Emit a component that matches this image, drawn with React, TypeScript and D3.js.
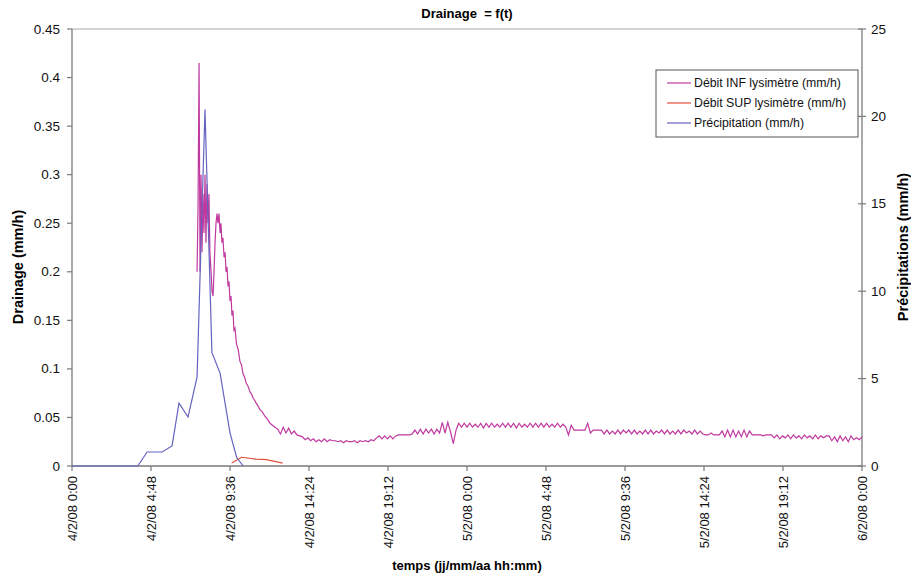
import React from "react";
import * as d3 from "d3";

// ---- Data ----
const xTickLabels = [
  "4/2/08 0:00", "4/2/08 4:48", "4/2/08 9:36", "4/2/08 14:24", "4/2/08 19:12",
  "5/2/08 0:00", "5/2/08 4:48", "5/2/08 9:36", "5/2/08 14:24", "5/2/08 19:12", "6/2/08 0:00",
];
const leftTicks = [0, 0.05, 0.1, 0.15, 0.2, 0.25, 0.3, 0.35, 0.4, 0.45];
const rightTicks = [0, 5, 10, 15, 20, 25];

// Precipitation (mm/h), time in hours from 4/2/08 0:00
const precipT = [0, 4.0, 4.56, 5.47, 6.08, 6.5, 7.05, 7.6, 8.08, 8.5, 9.0, 9.6, 10.0, 10.4];
const precipV = [0, 0, 0.8, 0.8, 1.15, 3.6, 2.8, 5.1, 20.4, 6.5, 5.3, 1.9, 0.5, 0];

// Débit SUP
const supT = [9.7, 10.3, 11.2, 11.8, 12.8];
const supV = [0.003, 0.009, 0.007, 0.0065, 0.003];

// Débit INF – peak part (irregular times)
const infPeakT = [
  7.6, 7.66, 7.72, 7.78, 7.84, 7.9, 7.96, 8.02,
  8.08, 8.14, 8.2, 8.26, 8.32, 8.38, 8.45, 8.51, 8.57, 8.63,
  8.69, 8.75, 8.81, 8.87, 8.93, 9.0, 9.05, 9.11, 9.17, 9.24,
  9.3, 9.36, 9.42, 9.48, 9.54, 9.6, 9.66, 9.72, 9.78, 9.84,
  9.9, 10.0, 10.1, 10.2, 10.3, 10.39, 10.48, 10.57, 10.7, 10.82,
  10.91, 11.0, 11.09, 11.18, 11.3, 11.42, 11.55, 11.73, 11.88, 12.03,
  12.18, 12.33,
];
const infPeakV = [
  0.2, 0.27, 0.415, 0.2, 0.3, 0.22, 0.28, 0.24,
  0.3, 0.23, 0.29, 0.25, 0.28, 0.22, 0.2, 0.18, 0.175, 0.2,
  0.23, 0.25, 0.26, 0.25, 0.26, 0.24, 0.25, 0.23, 0.235, 0.215,
  0.22, 0.2, 0.205, 0.185, 0.19, 0.17, 0.175, 0.155, 0.16, 0.14,
  0.142, 0.125, 0.12, 0.108, 0.104, 0.095, 0.092, 0.086, 0.082, 0.076,
  0.074, 0.07, 0.068, 0.065, 0.062, 0.058, 0.056, 0.051, 0.048, 0.044,
  0.042, 0.04,
];

// Débit INF – tail, one value every 10 minutes from 12.5 h to 48 h
const infTailStart = 12.5;
const infTailStepH = 1 / 6;
const infTailV = [
  0.038, 0.033, 0.040, 0.034, 0.039, 0.033,
  0.036, 0.032, 0.031,
  0.030, 0.027, 0.029, 0.026, 0.028, 0.025, 0.027, 0.025, 0.028, 0.025, 0.027, 0.026,
  0.026, 0.025, 0.026, 0.024, 0.026, 0.025, 0.025, 0.026, 0.024, 0.026, 0.025, 0.026, 0.025, 0.027, 0.026,
  0.029, 0.031, 0.028, 0.031, 0.028, 0.031, 0.028, 0.031,
  0.032, 0.032, 0.032, 0.032, 0.032, 0.033,
  0.037, 0.033, 0.038, 0.033, 0.038, 0.034, 0.038, 0.033, 0.038, 0.034,
  0.045, 0.034, 0.045, 0.035, 0.023, 0.037,
  0.044, 0.040, 0.044, 0.040, 0.044, 0.040, 0.043, 0.040, 0.044, 0.039,
  0.044, 0.040, 0.044, 0.040, 0.043, 0.040, 0.044, 0.040, 0.044, 0.040,
  0.044, 0.039, 0.044, 0.040, 0.043, 0.040, 0.044, 0.040, 0.044, 0.040,
  0.044, 0.040, 0.044, 0.040,
  0.043, 0.040, 0.044, 0.040, 0.043, 0.040, 0.032, 0.042,
  0.037, 0.037, 0.037, 0.037, 0.037, 0.044,
  0.034, 0.037, 0.037, 0.037,
  0.037, 0.033, 0.037, 0.033, 0.036, 0.033, 0.037, 0.033, 0.037, 0.034,
  0.037, 0.033, 0.037, 0.033, 0.036, 0.033, 0.037, 0.033, 0.037, 0.033,
  0.036, 0.034, 0.037, 0.033, 0.037, 0.033, 0.036, 0.033, 0.037, 0.033,
  0.037, 0.034, 0.036, 0.033, 0.037, 0.033, 0.036, 0.033,
  0.032, 0.032, 0.034, 0.032, 0.032, 0.032,
  0.036, 0.030, 0.037, 0.030, 0.037, 0.030, 0.036, 0.030, 0.037, 0.030, 0.036, 0.032,
  0.032, 0.032, 0.032, 0.031, 0.032, 0.032,
  0.032, 0.029, 0.032, 0.028, 0.031, 0.029, 0.032, 0.028, 0.032, 0.029,
  0.031, 0.028, 0.032, 0.029, 0.031, 0.028, 0.032, 0.028, 0.031, 0.029, 0.031,
  0.031, 0.026, 0.030, 0.025, 0.031, 0.026, 0.030, 0.025, 0.031, 0.027, 0.029, 0.027, 0.030,
];

const legendItems = [
  { label: "Débit INF lysimètre (mm/h)", color: "#c0399f" },
  { label: "Débit SUP lysimètre (mm/h)", color: "#e2503c" },
  { label: "Précipitation (mm/h)", color: "#6464c0" },
];

const W = 911;
const H = 575;
const FONT = "Arial, 'Liberation Sans', sans-serif";

export default function App() {
  const x = d3.scaleLinear().domain([0, 48]).range([72, 862]);
  const yL = d3.scaleLinear().domain([0, 0.45]).range([466, 29]);
  const yR = d3.scaleLinear().domain([0, 25]).range([466, 29]);

  const infPts: [number, number][] = [];
  infPeakT.forEach((t, i) => infPts.push([t, infPeakV[i]]));
  infTailV.forEach((v, i) => infPts.push([infTailStart + i * infTailStepH, v]));
  const supPts: [number, number][] = supT.map((t, i) => [t, supV[i]]);
  const prPts: [number, number][] = precipT.map((t, i) => [t, precipV[i]]);

  const lineL = d3.line<[number, number]>().x((d) => x(d[0])).y((d) => yL(d[1]));
  const lineR = d3.line<[number, number]>().x((d) => x(d[0])).y((d) => yR(d[1]));

  const xTicks = xTickLabels.map((_, i) => i * 4.8);
  const axisColor = "#7a7a7a";

  return (
    <svg
      width={W}
      height={H}
      style={{ position: "absolute", left: 0, top: 0, background: "#fff" }}
      fontFamily={FONT}
    >
      <rect x={0} y={0} width={W} height={H} fill="#fff" />
      {/* Title */}
      <text x={467} y={18} textAnchor="middle" fontSize={13} fontWeight="bold" fill="#000">
        {"Drainage\u00a0 = f(t)"}
      </text>

      {/* plot top border */}
      <line x1={72} x2={862} y1={29} y2={29} stroke="#a8a8a8" strokeWidth={1} />

      {/* Left axis */}
      <line x1={72} x2={72} y1={29} y2={466} stroke={axisColor} strokeWidth={1.3} />
      {leftTicks.map((t) => (
        <g key={"l" + t}>
          <line x1={67} x2={72} y1={yL(t)} y2={yL(t)} stroke={axisColor} strokeWidth={1.2} />
          <text x={60} y={yL(t) + 4.5} textAnchor="end" fontSize={13.5} fill="#111">
            {String(t)}
          </text>
        </g>
      ))}

      {/* Right axis */}
      <line x1={862} x2={862} y1={29} y2={466} stroke={axisColor} strokeWidth={1.3} />
      {rightTicks.map((t) => (
        <g key={"r" + t}>
          <line x1={858} x2={866} y1={yR(t)} y2={yR(t)} stroke={axisColor} strokeWidth={1.2} />
          <text x={871} y={yR(t) + 4.5} textAnchor="start" fontSize={13.5} fill="#111">
            {String(t)}
          </text>
        </g>
      ))}

      {/* Bottom axis */}
      <line x1={72} x2={862} y1={466} y2={466} stroke={axisColor} strokeWidth={1.3} />
      {xTicks.map((t, i) => (
        <g key={"x" + i}>
          <line x1={x(t)} x2={x(t)} y1={466} y2={471} stroke={axisColor} strokeWidth={1.2} />
          <text
            transform={`translate(${x(t) + 4.5},${476}) rotate(-90)`}
            textAnchor="end"
            fontSize={13}
            fill="#111"
          >
            {xTickLabels[i]}
          </text>
        </g>
      ))}

      {/* Axis titles */}
      <text
        transform="translate(23,267) rotate(-90)"
        textAnchor="middle"
        fontSize={14.5}
        fontWeight="bold"
        fill="#000"
      >
        Drainage (mm/h)
      </text>
      <text
        transform="translate(908,247) rotate(-90)"
        textAnchor="middle"
        fontSize={14.5}
        fontWeight="bold"
        fill="#000"
      >
        Précipitations (mm/h)
      </text>
      <text x={467} y={570} textAnchor="middle" fontSize={13} fontWeight="bold" fill="#000">
        temps (jj/mm/aa hh:mm)
      </text>

      {/* Series */}
      <path d={lineL(infPts) || ""} fill="none" stroke={legendItems[0].color} strokeWidth={1.2} />
      <path d={lineL(supPts) || ""} fill="none" stroke={legendItems[1].color} strokeWidth={1.2} />
      <path d={lineR(prPts) || ""} fill="none" stroke={legendItems[2].color} strokeWidth={1.2} />

      {/* Legend */}
      <rect x={656} y={70} width={202} height={67} fill="#fff" stroke="#555" strokeWidth={1} />
      {legendItems.map((it, i) => (
        <g key={it.label}>
          <line x1={667} x2={691} y1={83 + i * 20} y2={83 + i * 20} stroke={it.color} strokeWidth={1.2} />
          <text x={694} y={87 + i * 20} fontSize={12.3} fill="#111">
            {it.label}
          </text>
        </g>
      ))}
    </svg>
  );
}
